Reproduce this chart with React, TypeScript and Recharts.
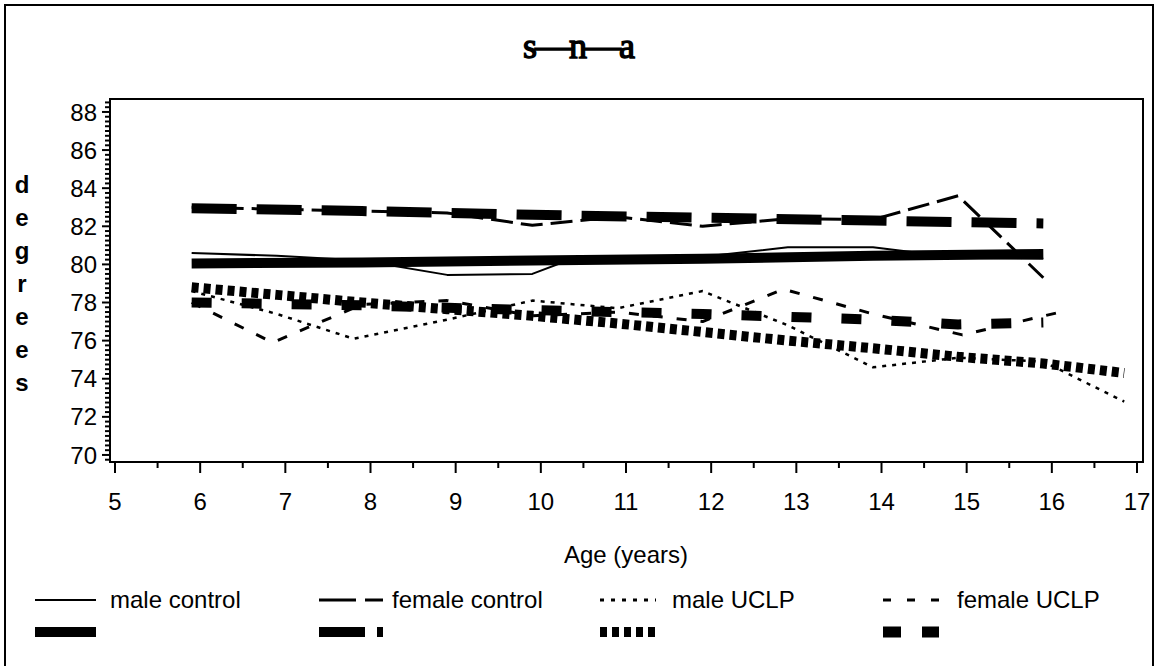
import React from 'react';
import { LineChart, Line, XAxis, YAxis, ReferenceArea } from 'recharts';

const SANS = '"Liberation Sans", Arial, Helvetica, sans-serif';

// ---- axis ticks ----
const xMajorTicks = [5, 6, 7, 8, 9, 10, 11, 12, 13, 14, 15, 16, 17];
const xMinorTicks = [5.5, 6.5, 7.5, 8.5, 9.5, 10.5, 11.5, 12.5, 13.5, 14.5, 15.5, 16.5];
const yMajorTicks = [70, 72, 74, 76, 78, 80, 82, 84, 86, 88];
const yMinorTicks = Array.from({ length: 76 }, (_, i) => 69.75 + i * 0.25).filter(
  (v) => !yMajorTicks.includes(v)
);
const yLabelLetters = ['d', 'e', 'g', 'r', 'e', 'e', 's'];

// ---- series (age in years, SNA in degrees) ----
const maleControlRawAge = [5.9, 6.9, 7.9, 8.9, 9.9, 10.4, 11.9, 12.9, 13.9, 14.9, 15.9];
const maleControlRawVal = [80.6, 80.45, 80.2, 79.45, 79.5, 80.35, 80.4, 80.9, 80.9, 80.35, 80.3];
const maleControlFitAge = [5.9, 7.9, 9.9, 11.9, 13.9, 15.9];
const maleControlFitVal = [80.05, 80.1, 80.2, 80.3, 80.45, 80.55];

const femaleControlRawAge = [5.9, 6.9, 7.9, 8.9, 9.9, 10.9, 11.9, 12.9, 13.9, 14.9, 15.9];
const femaleControlRawVal = [83.0, 82.9, 82.8, 82.7, 82.05, 82.5, 82.0, 82.4, 82.35, 83.6, 79.3];
const femaleControlFitAge = [5.9, 7.9, 9.9, 11.9, 13.9, 15.9];
const femaleControlFitVal = [82.95, 82.8, 82.6, 82.45, 82.3, 82.15];

const maleUclpRawAge = [5.9, 6.9, 7.8, 8.9, 9.9, 10.9, 11.9, 12.9, 13.9, 14.9, 15.9, 16.85];
const maleUclpRawVal = [78.6, 77.4, 76.1, 77.1, 78.1, 77.7, 78.6, 76.8, 74.6, 75.1, 74.9, 72.8];
const maleUclpFitAge = [5.9, 6.9, 7.9, 8.9, 9.9, 10.9, 11.9, 12.9, 13.9, 14.9, 15.9, 16.85];
const maleUclpFitVal = [78.8, 78.4, 78.0, 77.65, 77.3, 76.9, 76.45, 76.0, 75.6, 75.15, 74.8, 74.3];

const femaleUclpRawAge = [5.9, 6.85, 7.9, 8.9, 9.9, 10.9, 11.9, 12.85, 13.9, 14.95, 16.2];
const femaleUclpRawVal = [78.0, 75.9, 77.9, 78.1, 77.3, 77.5, 77.0, 78.7, 77.4, 76.3, 77.6];
const femaleUclpFitAge = [5.9, 7.9, 9.9, 11.9, 13.9, 14.9, 15.9];
const femaleUclpFitVal = [78.0, 77.85, 77.6, 77.4, 77.1, 76.85, 76.95];

const zip = (a: number[], b: number[]) => a.map((x, i) => ({ x, v: b[i] }));

const X_DOMAIN: [number, number] = [4.9413, 17.0704];
const Y_DOMAIN: [number, number] = [69.63, 88.68];

const XTick = (props: any) => {
  const { x, y, payload } = props;
  const v = payload.value as number;
  const major = xMajorTicks.includes(v);
  return (
    <g>
      <line x1={x} x2={x} y1={y} y2={y + (major ? 11 : 6)} stroke="#000" strokeWidth={2} />
      {major && (
        <text x={x} y={y + 48} textAnchor="middle" fontFamily={SANS} fontSize={24} fill="#000">
          {v}
        </text>
      )}
    </g>
  );
};

const YTick = (props: any) => {
  const { x, y, payload } = props;
  const v = payload.value as number;
  const major = yMajorTicks.includes(v);
  return (
    <g>
      <line x1={x} x2={x - (major ? 8 : 5)} y1={y} y2={y} stroke="#000" strokeWidth={2} />
      {major && (
        <text x={x - 13} y={y} dy="0.36em" textAnchor="end" fontFamily={SANS} fontSize={24} fill="#000">
          {v}
        </text>
      )}
    </g>
  );
};

const series = [
  { name: 'mcFit', data: zip(maleControlFitAge, maleControlFitVal), w: 10, dash: undefined },
  { name: 'fcFit', data: zip(femaleControlFitAge, femaleControlFitVal), w: 10, dash: '45 20' },
  { name: 'muFit', data: zip(maleUclpFitAge, maleUclpFitVal), w: 10, dash: '7 5' },
  { name: 'fuFit', data: zip(femaleUclpFitAge, femaleUclpFitVal), w: 10, dash: '20 30' },
  { name: 'mcRaw', data: zip(maleControlRawAge, maleControlRawVal), w: 2, dash: undefined },
  { name: 'fcRaw', data: zip(femaleControlRawAge, femaleControlRawVal), w: 3, dash: '22 8' },
  { name: 'muRaw', data: zip(maleUclpRawAge, maleUclpRawVal), w: 2.5, dash: '4 6' },
  { name: 'fuRaw', data: zip(femaleUclpRawAge, femaleUclpRawVal), w: 3, dash: '10 14' },
];

const legendItems = [
  { label: 'male control', x: 35, len: 61, tx: 110, thin: undefined, thick: undefined, thinW: 2, thickW: 10 },
  { label: 'female control', x: 319, len: 64, tx: 392, thin: '37 9 18 100', thick: '46 12 6 100', thinW: 3, thickW: 10 },
  { label: 'male UCLP', x: 600, len: 56, tx: 672, thin: '4 7', thick: '7 5', thinW: 3, thickW: 10 },
  { label: 'female UCLP', x: 883, len: 56, tx: 957, thin: '8 16', thick: '18 21', thinW: 3, thickW: 11 },
];

export default function App() {
  return (
    <div
      style={{
        position: 'absolute',
        left: 0,
        top: 0,
        width: 1157,
        height: 666,
        overflow: 'hidden',
        background: '#fff',
      }}
    >
      <div
        style={{
          position: 'absolute',
          left: 4,
          top: 4,
          width: 1146,
          height: 700,
          border: '2px solid #000',
        }}
      />
      <div style={{ position: 'absolute', left: 0, top: 0 }}>
        <LineChart width={1157} height={666} margin={{ top: 99, right: 14, bottom: 164, left: 60 }}>
          <XAxis
            type="number"
            dataKey="x"
            domain={X_DOMAIN}
            allowDataOverflow
            ticks={[...xMajorTicks, ...xMinorTicks].sort((a, b) => a - b)}
            interval={0}
            tick={<XTick />}
            tickLine={false}
            tickSize={0}
            tickMargin={0}
            height={40}
            axisLine={{ stroke: '#000', strokeWidth: 2 }}
          />
          <YAxis
            type="number"
            dataKey="v"
            domain={Y_DOMAIN}
            allowDataOverflow
            ticks={[...yMajorTicks, ...yMinorTicks].sort((a, b) => a - b)}
            interval={0}
            tick={<YTick />}
            tickLine={false}
            tickSize={0}
            tickMargin={0}
            width={50}
            axisLine={{ stroke: '#000', strokeWidth: 2 }}
          />
          <ReferenceArea
            x1={X_DOMAIN[0]}
            x2={X_DOMAIN[1]}
            y1={Y_DOMAIN[0]}
            y2={Y_DOMAIN[1]}
            fill="none"
            stroke="#000"
            strokeWidth={2}
            ifOverflow="visible"
          />
          {series.map((s) => (
            <Line
              key={s.name}
              data={s.data}
              dataKey="v"
              type="linear"
              stroke="#000"
              strokeWidth={s.w}
              strokeDasharray={s.dash}
              strokeLinecap="butt"
              strokeLinejoin="round"
              dot={false}
              activeDot={false}
              isAnimationActive={false}
            />
          ))}
        </LineChart>
      </div>
      <svg width={1157} height={666} style={{ position: 'absolute', left: 0, top: 0, pointerEvents: 'none' }}>
        <text
          x={578}
          y={58}
          textAnchor="middle"
          fontFamily='"Liberation Serif", "DejaVu Serif", serif'
          fontSize={36}
          letterSpacing={-2}
          fill="#000"
          stroke="#000"
          strokeWidth={1.4}
        >
          s—n—a
        </text>
        {yLabelLetters.map((c, i) => (
          <text
            key={i}
            x={22}
            y={193 + i * 33}
            textAnchor="middle"
            fontFamily={SANS}
            fontWeight="bold"
            fontSize={24}
            fill="#000"
          >
            {c}
          </text>
        ))}
        <text x={626} y={563} textAnchor="middle" fontFamily={SANS} fontSize={24} fill="#000">
          Age (years)
        </text>
        {legendItems.map((it) => (
          <g key={it.label}>
            <line x1={it.x} x2={it.x + it.len} y1={600} y2={600} stroke="#000" strokeWidth={it.thinW} strokeDasharray={it.thin} />
            <line x1={it.x} x2={it.x + it.len} y1={632} y2={632} stroke="#000" strokeWidth={it.thickW} strokeDasharray={it.thick} />
            <text x={it.tx} y={608} fontFamily={SANS} fontSize={24} fill="#000">
              {it.label}
            </text>
          </g>
        ))}
      </svg>
    </div>
  );
}
